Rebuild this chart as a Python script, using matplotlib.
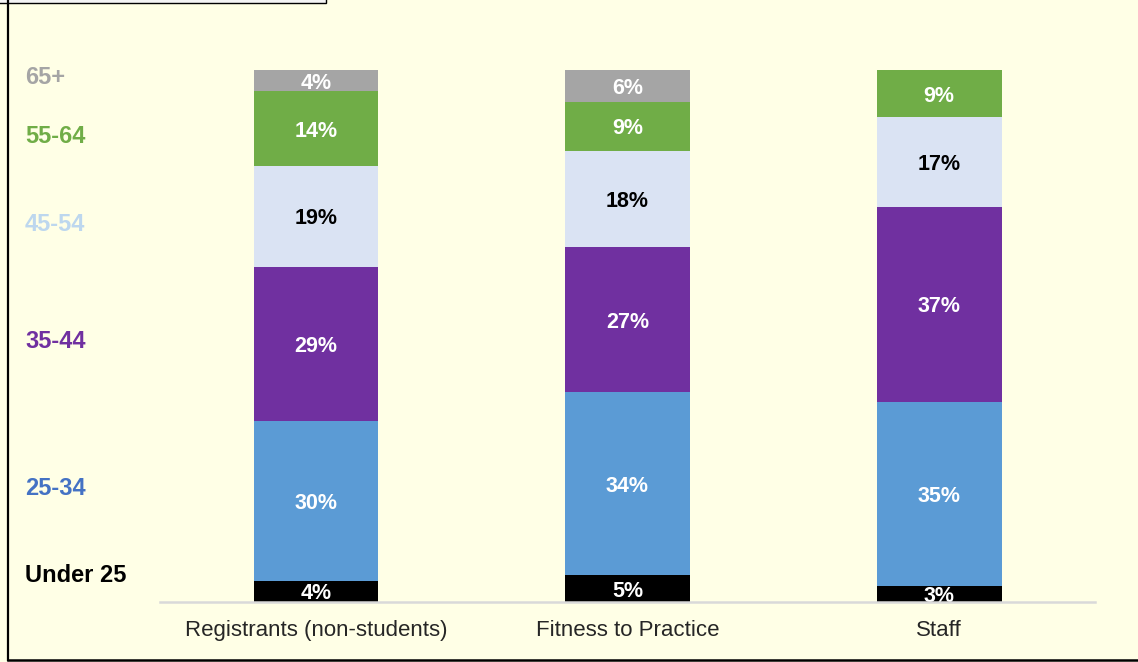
import matplotlib
matplotlib.use("Agg")
import matplotlib.pyplot as plt
import numpy as np
from matplotlib.patches import Rectangle
from matplotlib.lines import Line2D

plt.rcParams["font.family"] = ["Liberation Sans", "DejaVu Sans"]

# Age profile by group (percent, as labelled)
categories = ["Registrants (non-students)", "Fitness to Practice", "Staff"]
age_bands = ["Under 25", "25-34", "35-44", "45-54", "55-64", "65+"]
under_25 = [4, 5, 3]
age_25_34 = [30, 34, 35]
age_35_44 = [29, 27, 37]
age_45_54 = [19, 18, 17]
age_55_64 = [14, 9, 9]
age_65_plus = [4, 6, 0]

series = [under_25, age_25_34, age_35_44, age_45_54, age_55_64, age_65_plus]
bar_colors = ["#000000", "#5B9BD5", "#7030A0", "#DAE3F3", "#70AD47", "#A5A5A5"]
text_colors = ["white", "white", "white", "black", "white", "white"]
band_label_colors = ["#000000", "#4472C4", "#7030A0", "#BDD7EE", "#70AD47", "#A5A5A5"]
band_label_y = [573, 486, 339, 222, 134, 75]  # pixel rows of the side labels

W, H = 1138, 662
bg = "#FFFFE6"
fig = plt.figure(figsize=(W / 100, H / 100), dpi=100, facecolor=bg)
ax = fig.add_axes([160 / W, (H - 602) / H, (1095 - 160) / W, (602 - 70) / H])
ax.set_facecolor(bg)

values = np.array(series, dtype=float)
totals = values.sum(axis=0)
shares = values / totals * 100  # 100% stacked
x = np.arange(len(categories))
bottom = np.zeros(len(categories))
for i, band in enumerate(age_bands):
    ax.bar(x, shares[i], bottom=bottom, width=0.4, color=bar_colors[i],
           edgecolor="none", zorder=1)
    for j in range(len(categories)):
        if values[i, j] > 0:
            ax.text(x[j], bottom[j] + shares[i, j] / 2, f"{int(values[i, j])}%",
                    ha="center", va="center_baseline", color=text_colors[i],
                    fontsize=15.5, fontweight="bold", zorder=3, clip_on=True)
    bottom += shares[i]

ax.set_xlim(-0.5, 2.5)
ax.set_ylim(0, 100)
ax.set_xticks(x)
ax.set_xticklabels(categories, fontsize=16, color="#262626")
ax.tick_params(axis="x", length=0, pad=13)
ax.set_yticks([])
for s in ["top", "left", "right"]:
    ax.spines[s].set_visible(False)
ax.spines["bottom"].set_color("#D9D9D9")
ax.spines["bottom"].set_linewidth(1.8)
ax.spines["bottom"].set_zorder(4)

# Side labels for the age bands
for band, col, py in zip(age_bands, band_label_colors, band_label_y):
    fig.text(25 / W, (H - py) / H, band, color=col, fontsize=17,
             fontweight="bold", ha="left", va="center_baseline")

# Frame lines and the header box at the top-left
fig.add_artist(Line2D([7.5 / W, 7.5 / W], [(H - 660) / H, 1.0],
                      color="black", lw=1.6, transform=fig.transFigure))
fig.add_artist(Line2D([7.5 / W, 1.0], [(H - 660) / H, (H - 660) / H],
                      color="black", lw=1.8, transform=fig.transFigure))
fig.add_artist(Rectangle((-2 / W, (H - 2.5) / H), 328 / W, 10 / H,
                         facecolor="#F4F4F4", edgecolor="black", lw=1.0,
                         transform=fig.transFigure))

fig.savefig("out.png", dpi=100, facecolor=bg)
